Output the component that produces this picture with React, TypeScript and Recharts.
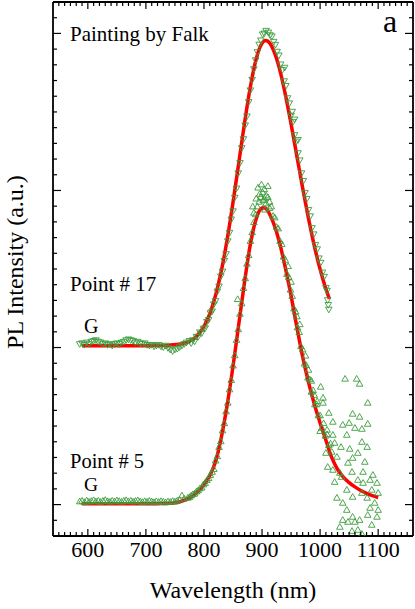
import React from 'react';
import { ComposedChart, Line, Scatter, XAxis, YAxis } from 'recharts';

const FONT = "'Liberation Serif', 'Times New Roman', Times, serif";
const GREEN = '#3c9c3c';
const RED = '#ff0000';

// Axis tick values
const xMajorTicks = [600, 700, 800, 900, 1000, 1100];
const xMinorTicks: number[] = [];
for (let v = 550; v <= 1150; v += 10) xMinorTicks.push(v);
const yMajorTicks = [0, 1, 2, 3];
const yMinorTicks: number[] = [];
for (let i = -1; i <= 31; i++) yMinorTicks.push(Math.round(i) / 10);

// Fit curves (wavelength nm, intensity a.u. with offset)
const point17Fit: [number, number][] = [
  [590, 1.012], [600, 1.012], [620, 1.012], [640, 1.012], [660, 1.012], [680, 1.012], [700, 1.012],
  [720, 1.013], [740, 1.015], [760, 1.022], [770, 1.032], [780, 1.05], [790, 1.083], [800, 1.135],
  [810, 1.214], [820, 1.333], [830, 1.49], [840, 1.689], [850, 1.923], [860, 2.177], [870, 2.433],
  [880, 2.662], [890, 2.839], [900, 2.938], [906, 2.955], [910, 2.95], [920, 2.891], [930, 2.776],
  [940, 2.614], [950, 2.424], [960, 2.219], [970, 2.015], [980, 1.822], [990, 1.648], [1000, 1.498],
  [1010, 1.373], [1016, 1.31],
];

const point5Fit: [number, number][] = [
  [590, 0.005], [600, 0.005], [620, 0.005], [640, 0.005], [660, 0.005], [680, 0.005], [700, 0.005],
  [720, 0.006], [740, 0.008], [750, 0.012], [760, 0.02], [770, 0.033], [780, 0.055], [790, 0.085],
  [800, 0.125], [810, 0.185], [820, 0.274], [830, 0.43], [840, 0.635], [850, 0.88], [860, 1.15],
  [870, 1.42], [880, 1.66], [890, 1.82], [900, 1.888], [905, 1.89], [910, 1.87], [920, 1.79],
  [930, 1.67], [940, 1.51], [950, 1.33], [960, 1.13], [970, 0.94], [980, 0.78], [990, 0.64],
  [1000, 0.52], [1010, 0.41], [1020, 0.30], [1030, 0.225], [1040, 0.175], [1050, 0.14],
  [1060, 0.113], [1070, 0.09], [1080, 0.072], [1090, 0.057], [1100, 0.045],
];

// Measured spectra (down triangles: Point # 17, up triangles: Point # 5)
const point17Data: [number, number][] = [
  [586, 1.02], [590, 1.025], [594, 1.015], [598, 1.03], [602, 1.02], [606, 1.035], [610, 1.04],
  [614, 1.045], [618, 1.035], [622, 1.03], [626, 1.02], [630, 1.025], [634, 1.015], [638, 1.02],
  [642, 1.01], [646, 1.02], [650, 1.025], [654, 1.02], [658, 1.03], [662, 1.035], [666, 1.045],
  [670, 1.05], [674, 1.045], [678, 1.04], [682, 1.03], [686, 1.035], [690, 1.025], [694, 1.02],
  [698, 1.025], [702, 1.015], [706, 1.01], [710, 1.015], [714, 1.005], [718, 1.01], [722, 1.015],
  [726, 1.005], [730, 1.0], [734, 1.01], [738, 0.995], [742, 0.985], [746, 0.975], [750, 0.985],
  [754, 0.99], [758, 1.0], [762, 1.01], [766, 1.02], [770, 1.03],
  [775, 1.04], [778, 1.026], [781, 1.045], [784, 1.037], [787, 1.067], [790, 1.066], [793, 1.095],
  [796, 1.089], [799, 1.118], [802, 1.121], [805, 1.162], [808, 1.174], [811, 1.217], [814, 1.228],
  [817, 1.273], [820, 1.294], [823, 1.355], [826, 1.387], [829, 1.451], [832, 1.482], [835, 1.55],
  [838, 1.593], [841, 1.675], [844, 1.729], [847, 1.814], [850, 1.866], [853, 1.952], [856, 2.011],
  [859, 2.108], [862, 2.173], [865, 2.268], [868, 2.325], [871, 2.413], [874, 2.47], [877, 2.561],
  [880, 2.636], [883, 2.703], [886, 2.771], [889, 2.828], [892, 2.879], [895, 2.927], [898, 2.954],
  [901, 2.992], [904, 2.998], [907, 3.015],
  [911, 3.004], [914, 2.987], [917, 2.979], [920, 2.945], [923, 2.926], [926, 2.882], [929, 2.858],
  [932, 2.801], [935, 2.766], [938, 2.694], [941, 2.664], [944, 2.586], [947, 2.553], [950, 2.475],
  [953, 2.434], [956, 2.351], [959, 2.31], [962, 2.236], [965, 2.19], [968, 2.108], [971, 2.059],
  [974, 1.983], [977, 1.944], [980, 1.874], [983, 1.834], [986, 1.759], [989, 1.719], [992, 1.652],
  [995, 1.624], [998, 1.566], [1001, 1.538], [1004, 1.476], [1007, 1.449], [1010, 1.378],
  [1012, 1.36], [1013, 1.3], [1014, 1.27], [1015, 1.24],
  [939, 2.78], [956, 2.45], [952, 2.5], [962, 2.32],
];

const point5Data: [number, number][] = [
  [586, 0.022], [590, 0.026], [594, 0.018], [598, 0.028], [602, 0.02], [606, 0.025], [610, 0.03],
  [614, 0.022], [618, 0.027], [622, 0.019], [626, 0.026], [630, 0.031], [634, 0.024], [638, 0.02],
  [642, 0.027], [646, 0.022], [650, 0.029], [654, 0.024], [658, 0.02], [662, 0.026], [666, 0.03],
  [670, 0.023], [674, 0.027], [678, 0.021], [682, 0.025], [686, 0.029], [690, 0.022], [694, 0.018],
  [698, 0.024], [702, 0.02], [706, 0.026], [710, 0.022], [714, 0.017], [718, 0.023], [722, 0.019],
  [726, 0.024], [730, 0.02], [734, 0.016], [738, 0.022], [742, 0.019], [746, 0.025], [750, 0.021],
  [754, 0.027], [758, 0.034], [762, 0.06], [766, 0.04],
  [772, 0.045], [775, 0.05], [778, 0.06], [781, 0.068], [784, 0.072], [787, 0.085], [790, 0.092],
  [793, 0.105], [796, 0.11], [799, 0.13], [802, 0.14], [805, 0.158], [808, 0.17], [811, 0.19],
  [814, 0.21], [817, 0.228], [820, 0.282], [823, 0.31], [826, 0.368], [829, 0.405], [832, 0.474],
  [835, 0.52], [838, 0.595], [841, 0.65], [844, 0.735], [847, 0.795], [850, 0.887], [853, 0.952],
  [856, 1.05], [859, 1.118], [862, 1.216], [865, 1.283], [868, 1.38], [871, 1.443], [874, 1.535],
  [877, 1.59], [880, 1.68], [883, 1.735], [886, 1.8], [889, 1.85], [892, 1.9], [895, 1.93],
  [898, 1.96], [901, 1.99],
  [886, 1.86], [890, 1.95], [893, 2.02], [896, 1.98], [899, 2.04], [902, 1.94], [904, 2.01],
  [907, 1.97], [910, 2.03], [913, 1.93], [905, 1.88], [884, 1.9], [858, 1.31],
  [904, 1.95], [907, 1.92], [910, 1.96], [913, 1.89], [916, 1.9], [919, 1.84], [922, 1.83],
  [925, 1.77], [928, 1.76], [931, 1.68], [934, 1.66], [937, 1.58], [940, 1.56], [943, 1.47],
  [946, 1.45], [949, 1.37], [952, 1.33], [955, 1.25], [958, 1.23], [961, 1.13], [964, 1.1],
  [967, 1.01], [970, 0.99], [973, 0.9], [976, 0.89], [979, 0.81], [982, 0.8], [985, 0.72],
  [988, 0.73], [991, 0.64], [994, 0.64], [997, 0.57], [1000, 0.57], [1003, 0.49], [1006, 0.52],
  [1009, 0.44], [1012, 0.45], [1015, 0.38], [1018, 0.39],
  [950, 1.42], [960, 1.2], [975, 0.95], [985, 0.79], [995, 0.66], [1000, 0.47], [990, 0.7],
  [980, 0.86], [965, 1.15], [945, 1.52],
];

const point5Tail: [number, number][] = [
  [1043, 0.803], [1063, 0.803], [1068, 0.771], [1082, 0.65], [1001, 0.752], [1005, 0.682],
  [1005, 0.65], [1015, 0.586], [1022, 0.529], [1056, 0.58], [1068, 0.561], [1082, 0.516],
  [1039, 0.51], [1050, 0.522], [1046, 0.446], [1060, 0.49], [1072, 0.484], [1072, 0.401],
  [1081, 0.369], [1051, 0.357], [1065, 0.331], [1056, 0.299], [1077, 0.274], [1048, 0.268],
  [1036, 0.369], [1025, 0.395], [1022, 0.446], [1012, 0.478], [1010, 0.331], [1020, 0.338],
  [1029, 0.306], [1013, 0.242], [1022, 0.223], [1034, 0.204], [1055, 0.21], [1074, 0.21],
  [1091, 0.191], [1065, 0.159], [1086, 0.159], [1098, 0.14], [1074, 0.14], [1025, 0.146],
  [1037, 0.178], [1046, 0.096], [1029, 0.045], [1039, 0.013], [1056, 0.051], [1072, 0.076],
  [1081, 0.045], [1089, 0.096], [1100, 0.076], [1094, 0.013], [1086, -0.019], [1100, -0.032],
  [1082, -0.064], [1098, -0.076], [1046, -0.032], [1056, -0.076], [1039, -0.096], [1048, -0.108],
  [1060, -0.108], [1068, -0.096], [1089, -0.127], [1034, -0.14], [1055, -0.166], [1065, -0.159],
  [1072, -0.185],
];

const toXY = (arr: [number, number][]) => arr.map(([x, y]) => ({ x, y }));

const allXTicks = [...xMinorTicks];
const allYTicks = [...yMinorTicks];
const isXMajor = (v: number) => xMajorTicks.includes(v);
const isYMajor = (v: number) => yMajorTicks.some((m) => Math.abs(m - v) < 1e-6);

const TICK_W = 1.2;
const textStyle: React.CSSProperties = { fontFamily: FONT };

const BottomTick = (p: any) => {
  const v = p.payload.value;
  const major = isXMajor(v);
  return (
    <g>
      <line x1={p.x} x2={p.x} y1={p.y} y2={p.y - (major ? 7 : 4)} stroke="#000" strokeWidth={TICK_W} />
      {major && (
        <text x={p.x} y={p.y + 21} textAnchor="middle" style={textStyle} fontSize={22} fill="#000">
          {v}
        </text>
      )}
    </g>
  );
};
const TopTick = (p: any) => {
  const major = isXMajor(p.payload.value);
  return <line x1={p.x} x2={p.x} y1={p.y} y2={p.y + (major ? 7 : 4)} stroke="#000" strokeWidth={TICK_W} />;
};
const LeftTick = (p: any) => {
  const major = isYMajor(p.payload.value);
  return <line x1={p.x} x2={p.x + (major ? 8 : 4)} y1={p.y} y2={p.y} stroke="#000" strokeWidth={TICK_W} />;
};
const RightTick = (p: any) => {
  const major = isYMajor(p.payload.value);
  return <line x1={p.x} x2={p.x - (major ? 8 : 4)} y1={p.y} y2={p.y} stroke="#000" strokeWidth={TICK_W} />;
};

const DownTri = (p: any) => {
  const { cx, cy } = p;
  if (cx == null || cy == null) return null;
  return (
    <path d={`M${cx - 3.3},${cy - 2.7}L${cx + 3.3},${cy - 2.7}L${cx},${cy + 3}Z`} fill="none" stroke={GREEN} strokeWidth={0.9} />
  );
};
const UpTri = (p: any) => {
  const { cx, cy } = p;
  if (cx == null || cy == null) return null;
  return (
    <path d={`M${cx - 3.3},${cy + 2.7}L${cx + 3.3},${cy + 2.7}L${cx},${cy - 3}Z`} fill="none" stroke={GREEN} strokeWidth={0.9} />
  );
};

const axisLine = { stroke: '#000', strokeWidth: 1.8 };

export default function App() {
  return (
    <div style={{ position: 'absolute', left: 0, top: 0, width: 415, height: 609, background: '#fff' }}>
      <ComposedChart width={415} height={609} margin={{ top: 0, right: 0, bottom: 0, left: 0 }}>
        <XAxis
          xAxisId="b"
          dataKey="x"
          type="number"
          orientation="bottom"
          domain={[540, 1160]}
          allowDataOverflow
          ticks={allXTicks}
          interval={0}
          height={73}
          tickSize={0}
          tickMargin={0}
          tickLine={false}
          axisLine={axisLine}
          tick={BottomTick}
        />
        <XAxis
          xAxisId="t"
          dataKey="x"
          type="number"
          orientation="top"
          domain={[540, 1160]}
          allowDataOverflow
          ticks={allXTicks}
          interval={0}
          height={2}
          tickSize={0}
          tickMargin={0}
          tickLine={false}
          axisLine={axisLine}
          tick={TopTick}
        />
        <YAxis
          yAxisId="l"
          dataKey="y"
          type="number"
          orientation="left"
          domain={[-0.2, 3.2]}
          allowDataOverflow
          ticks={allYTicks}
          interval={0}
          width={53}
          tickSize={0}
          tickMargin={0}
          tickLine={false}
          axisLine={axisLine}
          tick={LeftTick}
        />
        <YAxis
          yAxisId="r"
          dataKey="y"
          type="number"
          orientation="right"
          domain={[-0.2, 3.2]}
          allowDataOverflow
          ticks={allYTicks}
          interval={0}
          width={2}
          tickSize={0}
          tickMargin={0}
          tickLine={false}
          axisLine={axisLine}
          tick={RightTick}
        />
        <Scatter xAxisId="b" yAxisId="l" data={toXY(point17Data)} shape={DownTri} isAnimationActive={false} />
        <Scatter xAxisId="b" yAxisId="l" data={toXY(point5Data)} shape={UpTri} isAnimationActive={false} />
        <Scatter xAxisId="b" yAxisId="l" data={toXY(point5Tail)} shape={UpTri} isAnimationActive={false} />
        <Scatter xAxisId="t" yAxisId="r" data={[]} isAnimationActive={false} />
        <Line xAxisId="b" yAxisId="l" data={toXY(point17Fit)} dataKey="y" type="monotone" stroke={RED} strokeWidth={3.5} dot={false} isAnimationActive={false} />
        <Line xAxisId="b" yAxisId="l" data={toXY(point5Fit)} dataKey="y" type="monotone" stroke={RED} strokeWidth={3.5} dot={false} isAnimationActive={false} />
      </ComposedChart>
      <svg width={415} height={609} style={{ position: 'absolute', left: 0, top: 0, pointerEvents: 'none' }}>
        <g style={textStyle} fill="#000">
          <text x={70} y={41} fontSize={21}>Painting by Falk</text>
          <text x={383} y={32} fontSize={32}>a</text>
          <text x={70} y={291} fontSize={21}>Point # 17</text>
          <text x={84} y={333} fontSize={20}>G</text>
          <text x={70} y={468} fontSize={20.5}>Point # 5</text>
          <text x={84} y={491} fontSize={19.5}>G</text>
          <text x={233} y={598} fontSize={24} textAnchor="middle">Wavelength (nm)</text>
          <text x={23} y={262} fontSize={24} textAnchor="middle" transform="rotate(-90 23 262)">PL Intensity (a.u.)</text>
        </g>
      </svg>
    </div>
  );
}
